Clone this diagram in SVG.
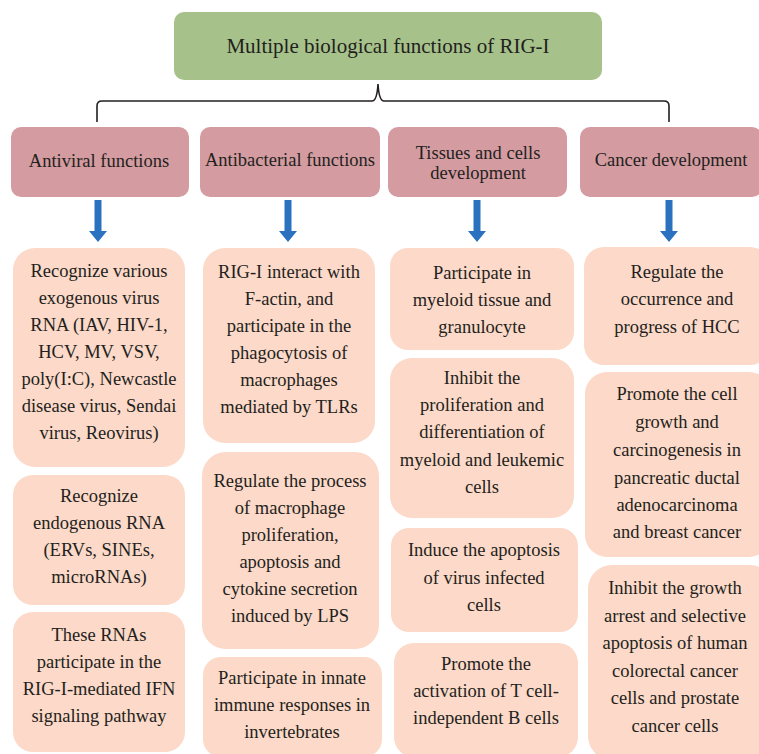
<svg xmlns="http://www.w3.org/2000/svg" width="759" height="754" viewBox="0 0 759 754">
<style>
.t{font-family:"Liberation Serif","Times New Roman",serif;font-size:18.5px;fill:#231f20;text-anchor:middle}
.title{font-size:21px}
.cat{fill:#d49ca0}
.det{fill:#fcd9c8}
.arr{fill:#2a72c0}
</style>
<defs>
<path id="arrow" d="M-3.5,0 H3.5 V31 H9 L0,42 L-9,31 H-3.5 Z"/>
</defs>
<rect width="759" height="754" fill="#ffffff"/>
<g id="title">
<rect x="174" y="12" width="428" height="68" rx="10" fill="#a6c28a"/>
<text class="t title" x="388" y="53">Multiple biological functions of RIG-I</text>
</g>
<g id="connectors">
<path d="M97,122 V106 Q97,101 102,101 H372 Q377,101 378,84 Q379,101 384,101 H664 Q669,101 669,106 V122" fill="none" stroke="#231f20" stroke-width="1.6"/>
<use href="#arrow" class="arr" x="98" y="200"/>
<use href="#arrow" class="arr" x="288" y="200"/>
<use href="#arrow" class="arr" x="477" y="200"/>
<use href="#arrow" class="arr" x="669" y="200"/>
</g>
<g id="cat-antiviral">
<rect class="cat" x="11" y="127" width="178" height="70" rx="10"/>
<text class="t" x="99" y="167">Antiviral functions</text>
</g>
<g id="cat-antibacterial">
<rect class="cat" x="200" y="127" width="180" height="70" rx="10"/>
<text class="t" x="290" y="166">Antibacterial functions</text>
</g>
<g id="cat-tissues">
<rect class="cat" x="388" y="127" width="179" height="70" rx="10"/>
<text class="t" x="478" y="159">Tissues and cells</text>
<text class="t" x="478" y="179">development</text>
</g>
<g id="cat-cancer">
<rect class="cat" x="580" y="127" width="182" height="70" rx="10"/>
<text class="t" x="671" y="166">Cancer development</text>
</g>
<g id="av1">
<rect class="det" x="13" y="248" width="172" height="219" rx="22"/>
<text class="t" x="99" y="277">Recognize various</text>
<text class="t" x="99" y="304">exogenous virus</text>
<text class="t" x="99" y="331">RNA (IAV, HIV-1,</text>
<text class="t" x="99" y="358">HCV, MV, VSV,</text>
<text class="t" x="99" y="385">poly(I:C), Newcastle</text>
<text class="t" x="99" y="412">disease virus, Sendai</text>
<text class="t" x="99" y="439">virus, Reovirus)</text>
</g>
<g id="av2">
<rect class="det" x="13" y="475" width="172" height="130" rx="20"/>
<text class="t" x="99" y="502">Recognize</text>
<text class="t" x="99" y="529">endogenous RNA</text>
<text class="t" x="99" y="556">(ERVs, SINEs,</text>
<text class="t" x="99" y="583">microRNAs)</text>
</g>
<g id="av3">
<rect class="det" x="13" y="612" width="172" height="140" rx="20"/>
<text class="t" x="99" y="641">These RNAs</text>
<text class="t" x="99" y="668">participate in the</text>
<text class="t" x="99" y="695">RIG-I-mediated IFN</text>
<text class="t" x="99" y="722">signaling pathway</text>
</g>
<g id="ab1">
<rect class="det" x="203" y="248" width="172" height="195" rx="22"/>
<text class="t" x="289" y="278">RIG-I interact with</text>
<text class="t" x="289" y="305">F-actin, and</text>
<text class="t" x="289" y="332">participate in the</text>
<text class="t" x="289" y="359">phagocytosis of</text>
<text class="t" x="289" y="386">macrophages</text>
<text class="t" x="289" y="413">mediated by TLRs</text>
</g>
<g id="ab2">
<rect class="det" x="202" y="452" width="177" height="197" rx="24"/>
<text class="t" x="290" y="487">Regulate the process</text>
<text class="t" x="290" y="514">of macrophage</text>
<text class="t" x="290" y="541">proliferation,</text>
<text class="t" x="290" y="568">apoptosis and</text>
<text class="t" x="290" y="595">cytokine secretion</text>
<text class="t" x="290" y="622">induced by LPS</text>
</g>
<g id="ab3">
<rect class="det" x="203" y="657" width="179" height="100" rx="18"/>
<text class="t" x="292" y="684">Participate in innate</text>
<text class="t" x="292" y="711">immune responses in</text>
<text class="t" x="292" y="738">invertebrates</text>
</g>
<g id="tc1">
<rect class="det" x="390" y="248" width="184" height="102" rx="18"/>
<text class="t" x="482" y="279">Participate in</text>
<text class="t" x="482" y="306">myeloid tissue and</text>
<text class="t" x="482" y="333">granulocyte</text>
</g>
<g id="tc2">
<rect class="det" x="390" y="358" width="184" height="160" rx="22"/>
<text class="t" x="482" y="384">Inhibit the</text>
<text class="t" x="482" y="411">proliferation and</text>
<text class="t" x="482" y="438">differentiation of</text>
<text class="t" x="482" y="466">myeloid and leukemic</text>
<text class="t" x="482" y="493">cells</text>
</g>
<g id="tc3">
<rect class="det" x="391" y="528" width="187" height="104" rx="18"/>
<text class="t" x="484" y="556">Induce the apoptosis</text>
<text class="t" x="484" y="584">of virus infected</text>
<text class="t" x="484" y="611">cells</text>
</g>
<g id="tc4">
<rect class="det" x="394" y="643" width="184" height="114" rx="20"/>
<text class="t" x="486" y="670">Promote the</text>
<text class="t" x="486" y="697">activation of T cell-</text>
<text class="t" x="486" y="724">independent B cells</text>
</g>
<g id="ca1">
<rect class="det" x="584" y="247" width="186" height="118" rx="20"/>
<text class="t" x="677" y="278">Regulate the</text>
<text class="t" x="677" y="305">occurrence and</text>
<text class="t" x="677" y="333">progress of HCC</text>
</g>
<g id="ca2">
<rect class="det" x="585" y="372" width="186" height="185" rx="22"/>
<text class="t" x="677" y="400">Promote the cell</text>
<text class="t" x="677" y="428">growth and</text>
<text class="t" x="677" y="456">carcinogenesis in</text>
<text class="t" x="677" y="484">pancreatic ductal</text>
<text class="t" x="677" y="511">adenocarcinoma</text>
<text class="t" x="677" y="538">and breast cancer</text>
</g>
<g id="ca3">
<rect class="det" x="588" y="565" width="186" height="195" rx="24"/>
<text class="t" x="675" y="594">Inhibit the growth</text>
<text class="t" x="675" y="622">arrest and selective</text>
<text class="t" x="675" y="649">apoptosis of human</text>
<text class="t" x="675" y="677">colorectal cancer</text>
<text class="t" x="675" y="704">cells and prostate</text>
<text class="t" x="675" y="732">cancer cells</text>
</g>
</svg>
